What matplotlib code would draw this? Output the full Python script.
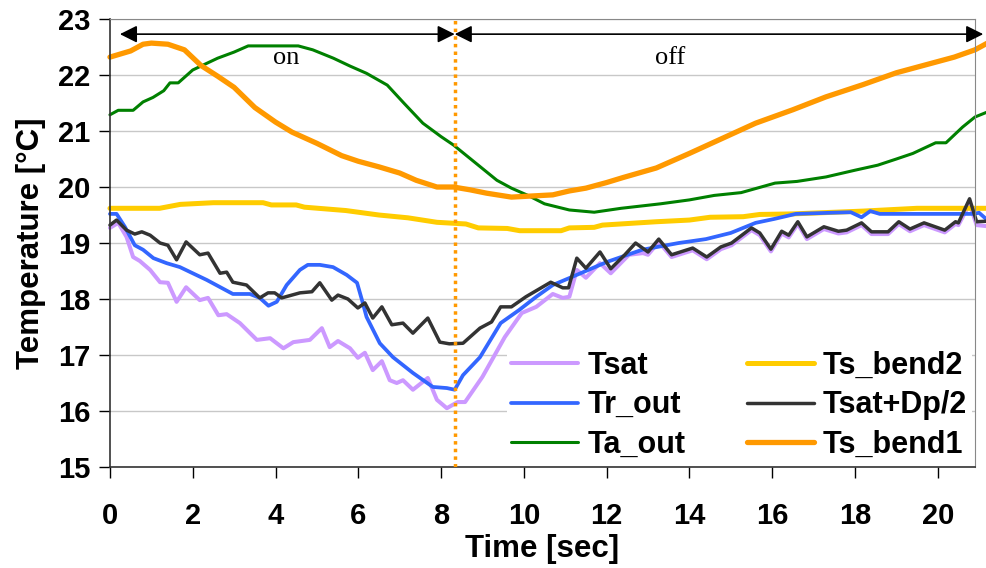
import matplotlib
matplotlib.use('Agg')
import matplotlib.pyplot as plt

# --- data (time in sec, temperature in degC) ---
t_tsat = [0, 0.2, 0.4, 0.56, 0.72, 0.97, 1.21, 1.4, 1.61, 1.84, 2.17, 2.37, 2.62, 2.82,
          3.14, 3.55, 3.87, 4.19, 4.43, 4.83, 5.12, 5.31, 5.51, 5.8, 5.99, 6.16, 6.35,
          6.57, 6.76, 6.93, 7.08, 7.32, 7.68, 7.9, 8.14, 8.4, 8.58, 9.0, 9.54, 9.95,
          10.3, 10.7, 10.94, 11.1, 11.28, 11.5, 11.84, 12.1, 12.54, 12.88, 13.0, 13.26,
          13.57, 14.08, 14.42, 14.76, 15.02, 15.5, 15.7, 15.97, 16.23, 16.4, 16.62,
          16.84, 17.25, 17.6, 17.8, 18.16, 18.4, 18.8, 19.06, 19.33, 19.67, 20.17,
          20.43, 20.5, 20.77, 20.94, 21.2]
tsat = [19.27, 19.36, 19.11, 18.75, 18.68, 18.52, 18.3, 18.29, 17.95, 18.21, 17.98, 18.02,
        17.71, 17.73, 17.57, 17.27, 17.3, 17.12, 17.23, 17.27, 17.48, 17.14, 17.25, 17.12,
        16.95, 17.04, 16.73, 16.89, 16.55, 16.5, 16.55, 16.38, 16.59, 16.2, 16.05, 16.16,
        16.16, 16.61, 17.32, 17.75, 17.86, 18.09, 18.02, 18.04, 18.52, 18.38, 18.64,
        18.46, 18.79, 18.82, 18.79, 19.02, 18.75, 18.87, 18.71, 18.89, 18.96, 19.23,
        19.14, 18.85, 19.17, 19.1, 19.34, 19.07, 19.25, 19.17, 19.19, 19.32, 19.16,
        19.16, 19.34, 19.21, 19.32, 19.19, 19.34, 19.32, 19.7, 19.32, 19.3]

t_trout = [0, 0.16, 0.36, 0.6, 0.8, 1.05, 1.37, 1.69, 2.0, 2.34, 2.97, 3.38, 3.62, 3.83,
           4.03, 4.27, 4.59, 4.78, 5.07, 5.39, 5.72, 5.97, 6.09, 6.2, 6.52, 6.84, 7.32,
           7.8, 8.14, 8.33, 8.53, 8.94, 9.44, 9.88, 10.3, 10.7, 11.15, 12.0, 12.86,
           13.74, 14.4, 15.0, 15.6, 16.05, 16.57, 17.4, 17.9, 18.16, 18.37, 18.6, 20.85,
           21.0, 21.2]
tr_out = [19.52, 19.52, 19.29, 18.96, 18.88, 18.73, 18.64, 18.57, 18.46, 18.34, 18.09,
          18.09, 18.02, 17.88, 17.95, 18.25, 18.52, 18.61, 18.61, 18.57, 18.43, 18.29,
          17.98, 17.68, 17.21, 16.96, 16.68, 16.43, 16.41, 16.38, 16.64, 16.96, 17.57,
          17.8, 18.04, 18.25, 18.39, 18.66, 18.88, 19.0, 19.07, 19.18, 19.36, 19.43,
          19.52, 19.54, 19.55, 19.46, 19.57, 19.52, 19.52, 19.54, 19.41]

t_taout = [0, 0.2, 0.56, 0.8, 1.04, 1.3, 1.45, 1.65, 2.0, 2.6, 3.0, 3.34, 4.55, 4.9, 5.4,
           5.8, 6.2, 6.7, 7.1, 7.56, 8.0, 8.3, 8.8, 9.35, 9.7, 10.1, 10.5, 11.1, 11.7,
           12.35, 13.3, 14.0, 14.6, 15.25, 16.07, 16.6, 17.3, 18.0, 18.55, 19.0, 19.4,
           19.95, 20.2, 20.6, 20.9, 21.2]
ta_out = [21.29, 21.37, 21.37, 21.52, 21.6, 21.72, 21.86, 21.86, 22.09, 22.3, 22.41,
          22.52, 22.52, 22.45, 22.3, 22.16, 22.03, 21.82, 21.5, 21.14, 20.9, 20.75,
          20.45, 20.12, 19.98, 19.85, 19.7, 19.59, 19.55, 19.62, 19.7, 19.77, 19.85,
          19.9, 20.07, 20.1, 20.18, 20.3, 20.39, 20.5, 20.6, 20.79, 20.79, 21.07, 21.25,
          21.34]

t_bend2 = [0, 1.2, 1.7, 2.5, 3.7, 3.9, 4.5, 4.7, 5.7, 6.5, 7.2, 7.9, 8.6, 8.9, 9.6, 9.9,
           10.9, 11.1, 11.7, 11.9, 13.2, 14.0, 14.5, 15.3, 15.7, 16.5, 18.2, 19.5, 21.2]
ts_bend2 = [19.62, 19.62, 19.69, 19.72, 19.72, 19.68, 19.68, 19.64, 19.58, 19.5, 19.45,
            19.37, 19.34, 19.27, 19.26, 19.22, 19.22, 19.27, 19.28, 19.32, 19.38, 19.41,
            19.46, 19.47, 19.51, 19.52, 19.57, 19.62, 19.62]

t_dp = [0, 0.16, 0.4, 0.6, 0.77, 0.97, 1.21, 1.4, 1.61, 1.84, 2.17, 2.37, 2.66, 2.82,
        2.97, 3.3, 3.62, 3.82, 3.98, 4.15, 4.59, 4.88, 5.07, 5.36, 5.51, 5.75, 5.99,
        6.16, 6.35, 6.57, 6.81, 7.08, 7.32, 7.68, 7.97, 8.2, 8.53, 8.94, 9.22, 9.44,
        9.7, 10.05, 10.65, 10.94, 11.08, 11.28, 11.5, 11.84, 12.1, 12.44, 12.7, 13.0,
        13.26, 13.57, 14.08, 14.42, 14.76, 15.02, 15.5, 15.7, 15.97, 16.23, 16.4, 16.62,
        16.84, 17.25, 17.6, 17.8, 18.16, 18.4, 18.8, 19.06, 19.33, 19.67, 20.17, 20.43,
        20.5, 20.77, 20.94, 21.2]
tsat_dp = [19.32, 19.41, 19.23, 19.16, 19.2, 19.14, 19.0, 18.96, 18.7, 19.02, 18.79,
           18.82, 18.46, 18.48, 18.3, 18.25, 18.02, 18.11, 18.11, 18.02, 18.11, 18.13,
           18.29, 17.98, 18.07, 18.0, 17.84, 17.93, 17.66, 17.86, 17.54, 17.57, 17.39,
           17.66, 17.23, 17.2, 17.21, 17.48, 17.59, 17.86, 17.86, 18.04, 18.3, 18.2, 18.2,
           18.73, 18.55, 18.84, 18.54, 18.79, 19.0, 18.84, 19.07, 18.79, 18.91, 18.75,
           18.93, 19.0, 19.27, 19.18, 18.89, 19.21, 19.14, 19.38, 19.11, 19.29, 19.21,
           19.23, 19.36, 19.2, 19.2, 19.38, 19.25, 19.36, 19.23, 19.38, 19.36, 19.79,
           19.38, 19.39]

t_bend1 = [0, 0.5, 0.8, 1.0, 1.4, 1.8, 2.2, 2.6, 3.0, 3.5, 4.0, 4.4, 5.0, 5.6, 6.0, 6.5,
           7.0, 7.4, 7.9, 8.3, 8.7, 9.1, 9.7, 10.2, 10.7, 11.1, 11.5, 12.0, 12.4, 13.2,
           14.0, 14.8, 15.6, 16.5, 17.3, 18.2, 19.0, 19.8, 20.4, 20.9, 21.2]
ts_bend1 = [22.32, 22.43, 22.55, 22.57, 22.55, 22.45, 22.17, 21.98, 21.78, 21.42, 21.16,
            20.98, 20.78, 20.56, 20.46, 20.36, 20.25, 20.12, 20.0, 20.0, 19.95, 19.89,
            19.82, 19.84, 19.86, 19.93, 19.98, 20.08, 20.17, 20.34, 20.6, 20.87, 21.14,
            21.38, 21.61, 21.83, 22.04, 22.2, 22.32, 22.45, 22.57]

switch_time = 8.33
x_ticks = list(range(0, 21, 2))
y_ticks = list(range(15, 24))

plt.rcParams['font.family'] = ['Liberation Sans', 'DejaVu Sans']
plt.rcParams['font.weight'] = 'bold'

fig = plt.figure(figsize=(9.87, 5.68), dpi=100)
ax = fig.add_axes([0.1114, 0.1778, 0.8764, 0.7887])

style = dict(clip_on=False, solid_joinstyle='round', solid_capstyle='round')
l_tsat, = ax.plot(t_tsat, tsat, color='#CC99FF', lw=2.9, **style)
l_b2, = ax.plot(t_bend2, ts_bend2, color='#FFCC00', lw=3.6, **style)
l_tr, = ax.plot(t_trout, tr_out, color='#3366FF', lw=2.7, **style)
l_dp, = ax.plot(t_dp, tsat_dp, color='#333333', lw=2.5, **style)
l_ta, = ax.plot(t_taout, ta_out, color='#008000', lw=2.2, **style)
l_b1, = ax.plot(t_bend1, ts_bend1, color='#FF9900', lw=3.8, **style)

ax.axvline(switch_time, color='#FF9900', lw=2.5, ls=(0, (1, 1.2)), zorder=5)

# on / off arrows
arr = dict(arrowstyle='<|-|>', color='black', lw=1.2, mutation_scale=26,
           shrinkA=0, shrinkB=0)
ax.annotate('', xy=(0.24, 22.73), xytext=(switch_time, 22.73), arrowprops=arr,
            annotation_clip=False)
ax.annotate('', xy=(switch_time, 22.73), xytext=(21.1, 22.73), arrowprops=arr,
            annotation_clip=False)
ax.text(4.25, 22.3, 'on', family='Liberation Serif', weight='normal', fontsize=19,
        ha='center', va='center')
ax.text(13.54, 22.3, 'off', family='Liberation Serif', weight='normal', fontsize=19,
        ha='center', va='center')

ax.set_xlim(0, 20.9)
ax.set_ylim(15, 23)
ax.set_xticks(x_ticks)
ax.set_yticks(y_ticks)
ax.tick_params(direction='out', length=8, width=1, labelsize=21, pad=6)
ax.tick_params(axis='x', pad=17)
ax.yaxis.grid(True, color='#C8C8C8', lw=1)
ax.set_axisbelow(True)
for s in ['top', 'right']:
    ax.spines[s].set_color('#888888')
for s in ['left', 'bottom']:
    ax.spines[s].set_color('#333333')
    ax.spines[s].set_linewidth(1.2)

ax.set_xlabel('Time [sec]', fontsize=22.5, fontweight='bold', labelpad=3)
ax.set_ylabel('Temperature [°C]', fontsize=22.5, fontweight='bold', labelpad=9)

leg = ax.legend([l_tsat, l_tr, l_ta, l_b2, l_dp, l_b1],
                ['Tsat', 'Tr_out', 'Ta_out', 'Ts_bend2', 'Tsat+Dp/2', 'Ts_bend1'],
                ncol=2, loc='lower right', bbox_to_anchor=(1.0, 0.0),
                fontsize=22, handlelength=2.2, handletextpad=0.3,
                columnspacing=2.0, labelspacing=0.3, borderaxespad=0.1,
                borderpad=0.15, frameon=True, fancybox=False)
leg.get_frame().set_edgecolor('none')
leg.get_frame().set_facecolor('white')
leg.get_frame().set_alpha(1)
leg.set_zorder(6)

fig.savefig('out.png', dpi=100)
